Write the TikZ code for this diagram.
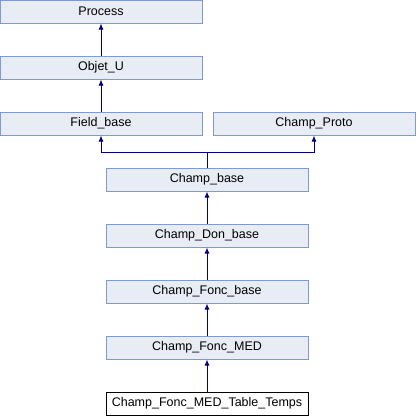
\documentclass[tikz,border=0pt]{standalone}
\usepackage{fontspec}
\setmainfont{Liberation Sans}
\usepackage{tikz}
\usetikzlibrary{arrows.meta}

\begin{document}
\begin{tikzpicture}[x=1pt,y=-1pt,
    cls/.style={draw=cborder,fill=cfill,line width=1pt,minimum width=202pt,minimum height=23pt,inner sep=0pt,font=\fontsize{12.5}{14}\selectfont},
    curcls/.style={cls,draw=black,fill=white},
    inh/.style={draw=cline,line width=1pt,-{Latex[length=6pt,width=5pt]}}]
            \definecolor{cfill}{HTML}{E8ECF5}
            \definecolor{cborder}{HTML}{7F9AD0}
            \definecolor{cline}{HTML}{000080}
            \useasboundingbox (0,0) rectangle (416,416);

            % クラスの箱を並べる
            \node[cls] (process) at (101,11.5) {Process};
            \node[cls] (objetu) at (101,67.5) {Objet\_U};
            \node[cls] (fieldbase) at (101,123.5) {Field\_base};
            \node[cls] (champproto) at (314,123.5) {Champ\_Proto};
            \node[cls] (champbase) at (207,179.5) {Champ\_base};
            \node[cls] (champdon) at (207,235.5) {Champ\_Don\_base};
            \node[cls] (foncbase) at (207,291.5) {Champ\_Fonc\_base};
            \node[cls] (foncmed) at (207,347.5) {Champ\_Fonc\_MED};
            \node[curcls] (medtable) at (207,403.5) {Champ\_Fonc\_MED\_Table\_Temps};

            % 継承の矢印を描く
            \coordinate (split) at (207,152);
            \draw[inh] (objetu)--(process);
            \draw[inh] (fieldbase)--(objetu);
            \draw[draw=cline,line width=1pt] (champbase)--(split);
            \draw[inh] (split)-|(fieldbase);
            \draw[inh] (split)-|(champproto);
            \draw[inh] (champdon)--(champbase);
            \draw[inh] (foncbase)--(champdon);
            \draw[inh] (foncmed)--(foncbase);
            \draw[inh] (medtable)--(foncmed);

        \end{tikzpicture}
\end{document}
